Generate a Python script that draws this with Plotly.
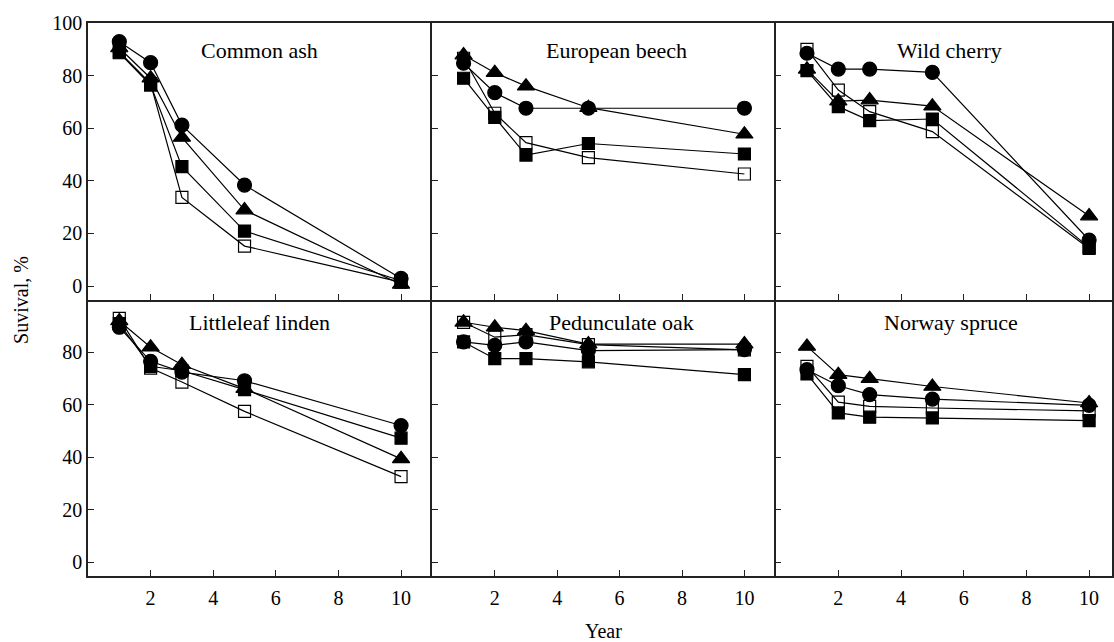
import plotly.graph_objects as go

years = [1, 2, 3, 5, 10]

species = ["Common ash", "European beech", "Wild cherry",
           "Littleleaf linden", "Pedunculate oak", "Norway spruce"]

# survival (%) per species for the four treatments
open_square = [
    [89, 77, 33.7, 15.2, 1.5],
    [86.6, 65.7, 54.5, 48.8, 42.6],
    [90, 74.5, 66.3, 58.7, 14.3],
    [93, 74, 68.7, 57.5, 32.6],
    [91.5, 85.8, 86.8, 83, 81],
    [74.7, 61, 59.4, 58.8, 57.7],
]
filled_square = [
    [88.7, 76.4, 45.4, 20.9, 2],
    [79, 64.1, 49.8, 54.2, 50.2],
    [81.9, 68.2, 62.9, 63.5, 14.7],
    [91, 74.7, 73, 65.8, 47.3],
    [84, 77.6, 77.6, 76.4, 71.5],
    [71.8, 56.9, 55.3, 55, 54],
]
circle = [
    [92.9, 84.9, 61.2, 38.4, 2.9],
    [84.7, 73.5, 67.6, 67.6, 67.6],
    [88.5, 82.5, 82.5, 81.2, 17.5],
    [89.6, 76.6, 72.5, 69.2, 52.1],
    [84, 82.7, 84, 80.7, 81.1],
    [73.4, 67.3, 63.9, 62.2, 59.8],
]
triangle = [
    [90.5, 79, 56.5, 28.9, 0.6],
    [87.8, 81.1, 76, 67.8, 57.7],
    [82.4, 70.3, 70.7, 68.4, 26.6],
    [92, 82, 75.3, 66.2, 39.4],
    [91.5, 89.6, 88.3, 83.2, 83.2],
    [82.3, 71.5, 70, 67, 60.7],
]

x_ticks = [2, 4, 6, 8, 10]
y_ticks_top = [0, 20, 40, 60, 80, 100]
y_ticks_bottom = [0, 20, 40, 60, 80]

series = [
    (open_square, "square-open", 12),
    (filled_square, "square", 12),
    (circle, "circle", 14),
    (triangle, "triangle-up", 15),
]

FONT = "Liberation Serif"
LINE = "#222"

fig = go.Figure()

x_domains = [[0, 0.3363], [0.3363, 0.6715], [0.6715, 1.0]]
y_domains = [[0.4991, 1.0], [0.0, 0.4991]]
x_ranges = [[0, 11], [0, 11], [0, 10.73]]
y_range = [-5.3, 100]

title_pos = [(5.48, 89.7), (5.9, 89.7), (5.55, 89.7),
             (5.48, 91.4), (6.07, 91.4), (5.6, 91.4)]

annotations = []
for i, name in enumerate(species):
    row, col = divmod(i, 3)
    idx = i + 1
    xa = "x" if idx == 1 else f"x{idx}"
    ya = "y" if idx == 1 else f"y{idx}"
    for values, symbol, size in series:
        fig.add_trace(go.Scatter(
            x=years, y=values[i], xaxis=xa, yaxis=ya,
            mode="lines+markers",
            line=dict(color="black", width=1.2),
            marker=dict(symbol=symbol, size=size, color="black",
                        line=dict(color="black", width=1.2)),
            showlegend=False,
        ))
    fig.update_layout({
        f"xaxis{'' if idx == 1 else idx}": dict(
            domain=x_domains[col], range=x_ranges[col], anchor=ya,
            tickvals=x_ticks, showticklabels=(row == 1),
            ticks="inside", ticklen=6, tickwidth=1.3, tickcolor=LINE,
            showline=True, linecolor=LINE, linewidth=1.5,
            mirror=(row == 0),
            showgrid=False, zeroline=False, ticklabelstandoff=3,
            tickfont=dict(family=FONT, size=20, color="black"),
        ),
        f"yaxis{'' if idx == 1 else idx}": dict(
            domain=y_domains[row], range=y_range, anchor=xa,
            tickvals=y_ticks_top if row == 0 else y_ticks_bottom,
            showticklabels=(col == 0),
            ticks="inside", ticklen=6, tickwidth=1.3, tickcolor=LINE,
            showline=True, linecolor=LINE, linewidth=1.5,
            mirror=(col == 2),
            showgrid=False, zeroline=False, ticklabelstandoff=0,
            tickfont=dict(family=FONT, size=20, color="black"),
        ),
    })
    tx, ty = title_pos[i]
    annotations.append(dict(
        x=tx, y=ty, xref=xa, yref=ya, text=name, showarrow=False,
        font=dict(family=FONT, size=22, color="black"),
    ))

annotations.append(dict(
    x=-0.066, y=0.5, xref="paper", yref="paper", xanchor="center", yanchor="middle",
    text="Suvival, %", textangle=-90, showarrow=False,
    font=dict(family=FONT, size=20, color="black"),
))
annotations.append(dict(
    x=0.503, y=-0.1, xref="paper", yref="paper", xanchor="center", yanchor="middle",
    text="Year", showarrow=False,
    font=dict(family=FONT, size=20, color="black"),
))

fig.update_layout(
    width=1114, height=642,
    margin=dict(l=88, r=0, t=23, b=66),
    paper_bgcolor="white", plot_bgcolor="white",
    annotations=annotations,
    showlegend=False,
)

fig.write_html("out.html")
